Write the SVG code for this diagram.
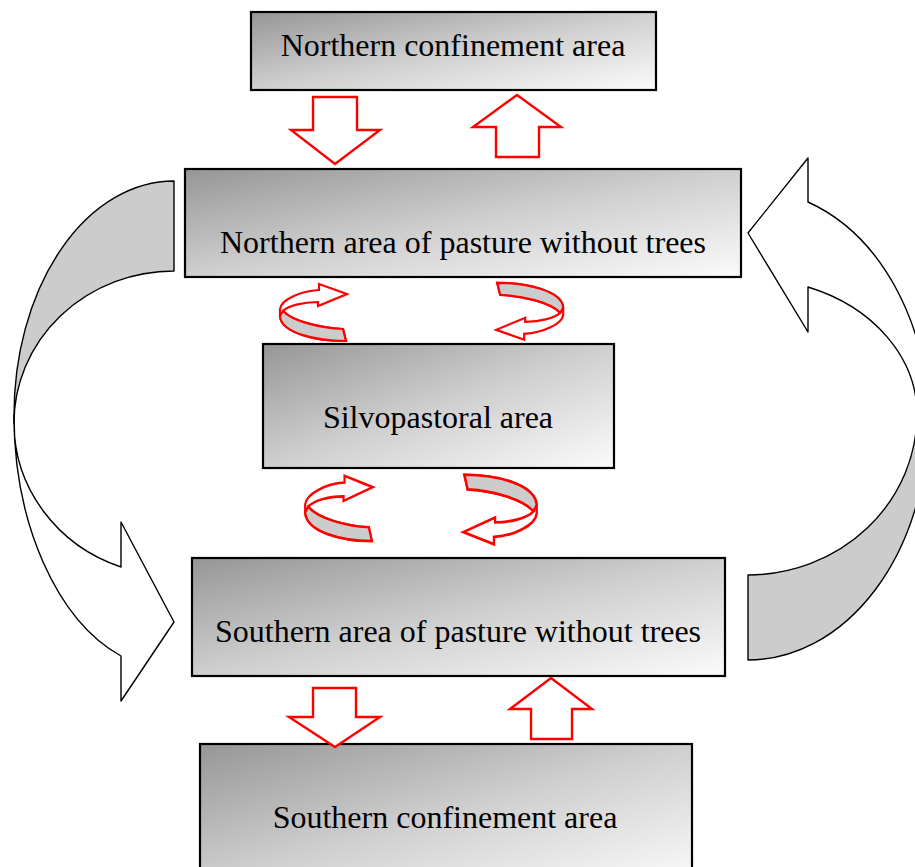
<svg xmlns="http://www.w3.org/2000/svg" width="915" height="867" viewBox="0 0 915 867">
<defs>
<linearGradient id="boxfill" x1="0" y1="0" x2="1" y2="1">
<stop offset="0" stop-color="#969696"/>
<stop offset="0.5" stop-color="#cfcfcf"/>
<stop offset="1" stop-color="#fbfbfb"/>
</linearGradient>
<path id="circ" d="M32.5,28.5 C2.5,28.5 -32.5,20.5 -33.5,3.5 L-33.5,-3.5 C-32.5,-12.5 -13.5,-21.5 5.5,-22.5 L5.5,-28.5 L33.5,-18.5 L4.5,-6.5 L4.5,-10.5 C-11.5,-10.5 -25.5,-6.5 -30.5,-1.5 C-21.5,8.5 6.5,15.5 29.5,16.5 Z"/>
<path id="circband" d="M29.5,16.5 C6.5,15.5 -21.5,8.5 -30.5,-1.5 L-33.5,3.5 C-32.5,20.5 2.5,28.5 32.5,28.5 Z"/>
</defs>
<style>
.box{fill:url(#boxfill);stroke:#000;stroke-width:2.2}
.lbl{font-family:"Liberation Serif","Times New Roman",serif;font-size:32px;fill:#000;text-anchor:middle}
.big{stroke:#000;stroke-width:1.4;stroke-linejoin:round}
.red{fill:#fff;stroke:#f00;stroke-width:2.4;stroke-linejoin:miter}
.cw{fill:#fff;stroke:#f00;stroke-width:2.2;vector-effect:non-scaling-stroke;stroke-linejoin:miter}
.cg{fill:#cccccc;stroke:#f00;stroke-width:2.2;vector-effect:non-scaling-stroke}
</style>
<rect width="915" height="867" fill="#fff"/>
<g id="big-arrows">
<path class="big" fill="#cccccc" d="M174,181 A160,234 0 0 0 14,415 L14,423 A160,152 0 0 1 174,271 Z"/>
<path class="big" fill="#fff" d="M14,415 A160,255 0 0 0 121,656 L121,701 L174,622 L121,522 L121,567 A160,152.6 0 0 1 14,423 Z"/>
<path class="big" fill="#cccccc" d="M748,660 A180,240 0 0 0 928,420 L917,414 A169,161 0 0 1 748,575 Z"/>
<path class="big" fill="#fff" d="M928,420 A180,231 0 0 0 808,202 L808,158 L748,233 L808,332 L808,287 A169,136 0 0 1 917,414 Z"/>
</g>
<g id="n-north-confinement">
<rect class="box" x="251" y="12" width="405" height="78"/>
<text class="lbl" x="453" y="56">Northern confinement area</text>
</g>
<g id="n-north-pasture">
<rect class="box" x="185" y="169" width="556" height="108"/>
<text class="lbl" x="463" y="253">Northern area of pasture without trees</text>
</g>
<g id="n-silvopastoral">
<rect class="box" x="263" y="344" width="351" height="124"/>
<text class="lbl" x="438" y="428">Silvopastoral area</text>
</g>
<g id="n-south-pasture">
<rect class="box" x="192" y="558" width="533" height="118"/>
<text class="lbl" x="458" y="642">Southern area of pasture without trees</text>
</g>
<g id="n-south-confinement">
<rect class="box" x="200" y="744" width="492" height="140"/>
<text class="lbl" x="445" y="828">Southern confinement area</text>
</g>
<g id="connectors">
<path class="red" d="M313,97 L357,97 L357,130 L380,130 L335,164 L291,130 L313,130 Z"/>
<path class="red" d="M517,95 L561,127 L539,127 L539,157 L496,157 L496,127 L473,127 Z"/>
<path class="red" d="M313,688 L356,688 L356,717 L380,717 L335,747 L289,717 L313,717 Z"/>
<path class="red" d="M551,678 L592,709 L572,709 L572,739 L531,739 L531,709 L510,709 Z"/>
<g transform="translate(313.5,312.5)"><use href="#circ" class="cw"/><use href="#circband" class="cg"/></g>
<g transform="translate(529.7,311.3) rotate(180)"><use href="#circ" class="cw"/><use href="#circband" class="cg"/></g>
<g transform="translate(339,508.4) scale(1.01,1.146)"><use href="#circ" class="cw"/><use href="#circband" class="cg"/></g>
<g transform="translate(500,509.5) rotate(180) scale(1.095,1.22)"><use href="#circ" class="cw"/><use href="#circband" class="cg"/></g>
</g>
</svg>
